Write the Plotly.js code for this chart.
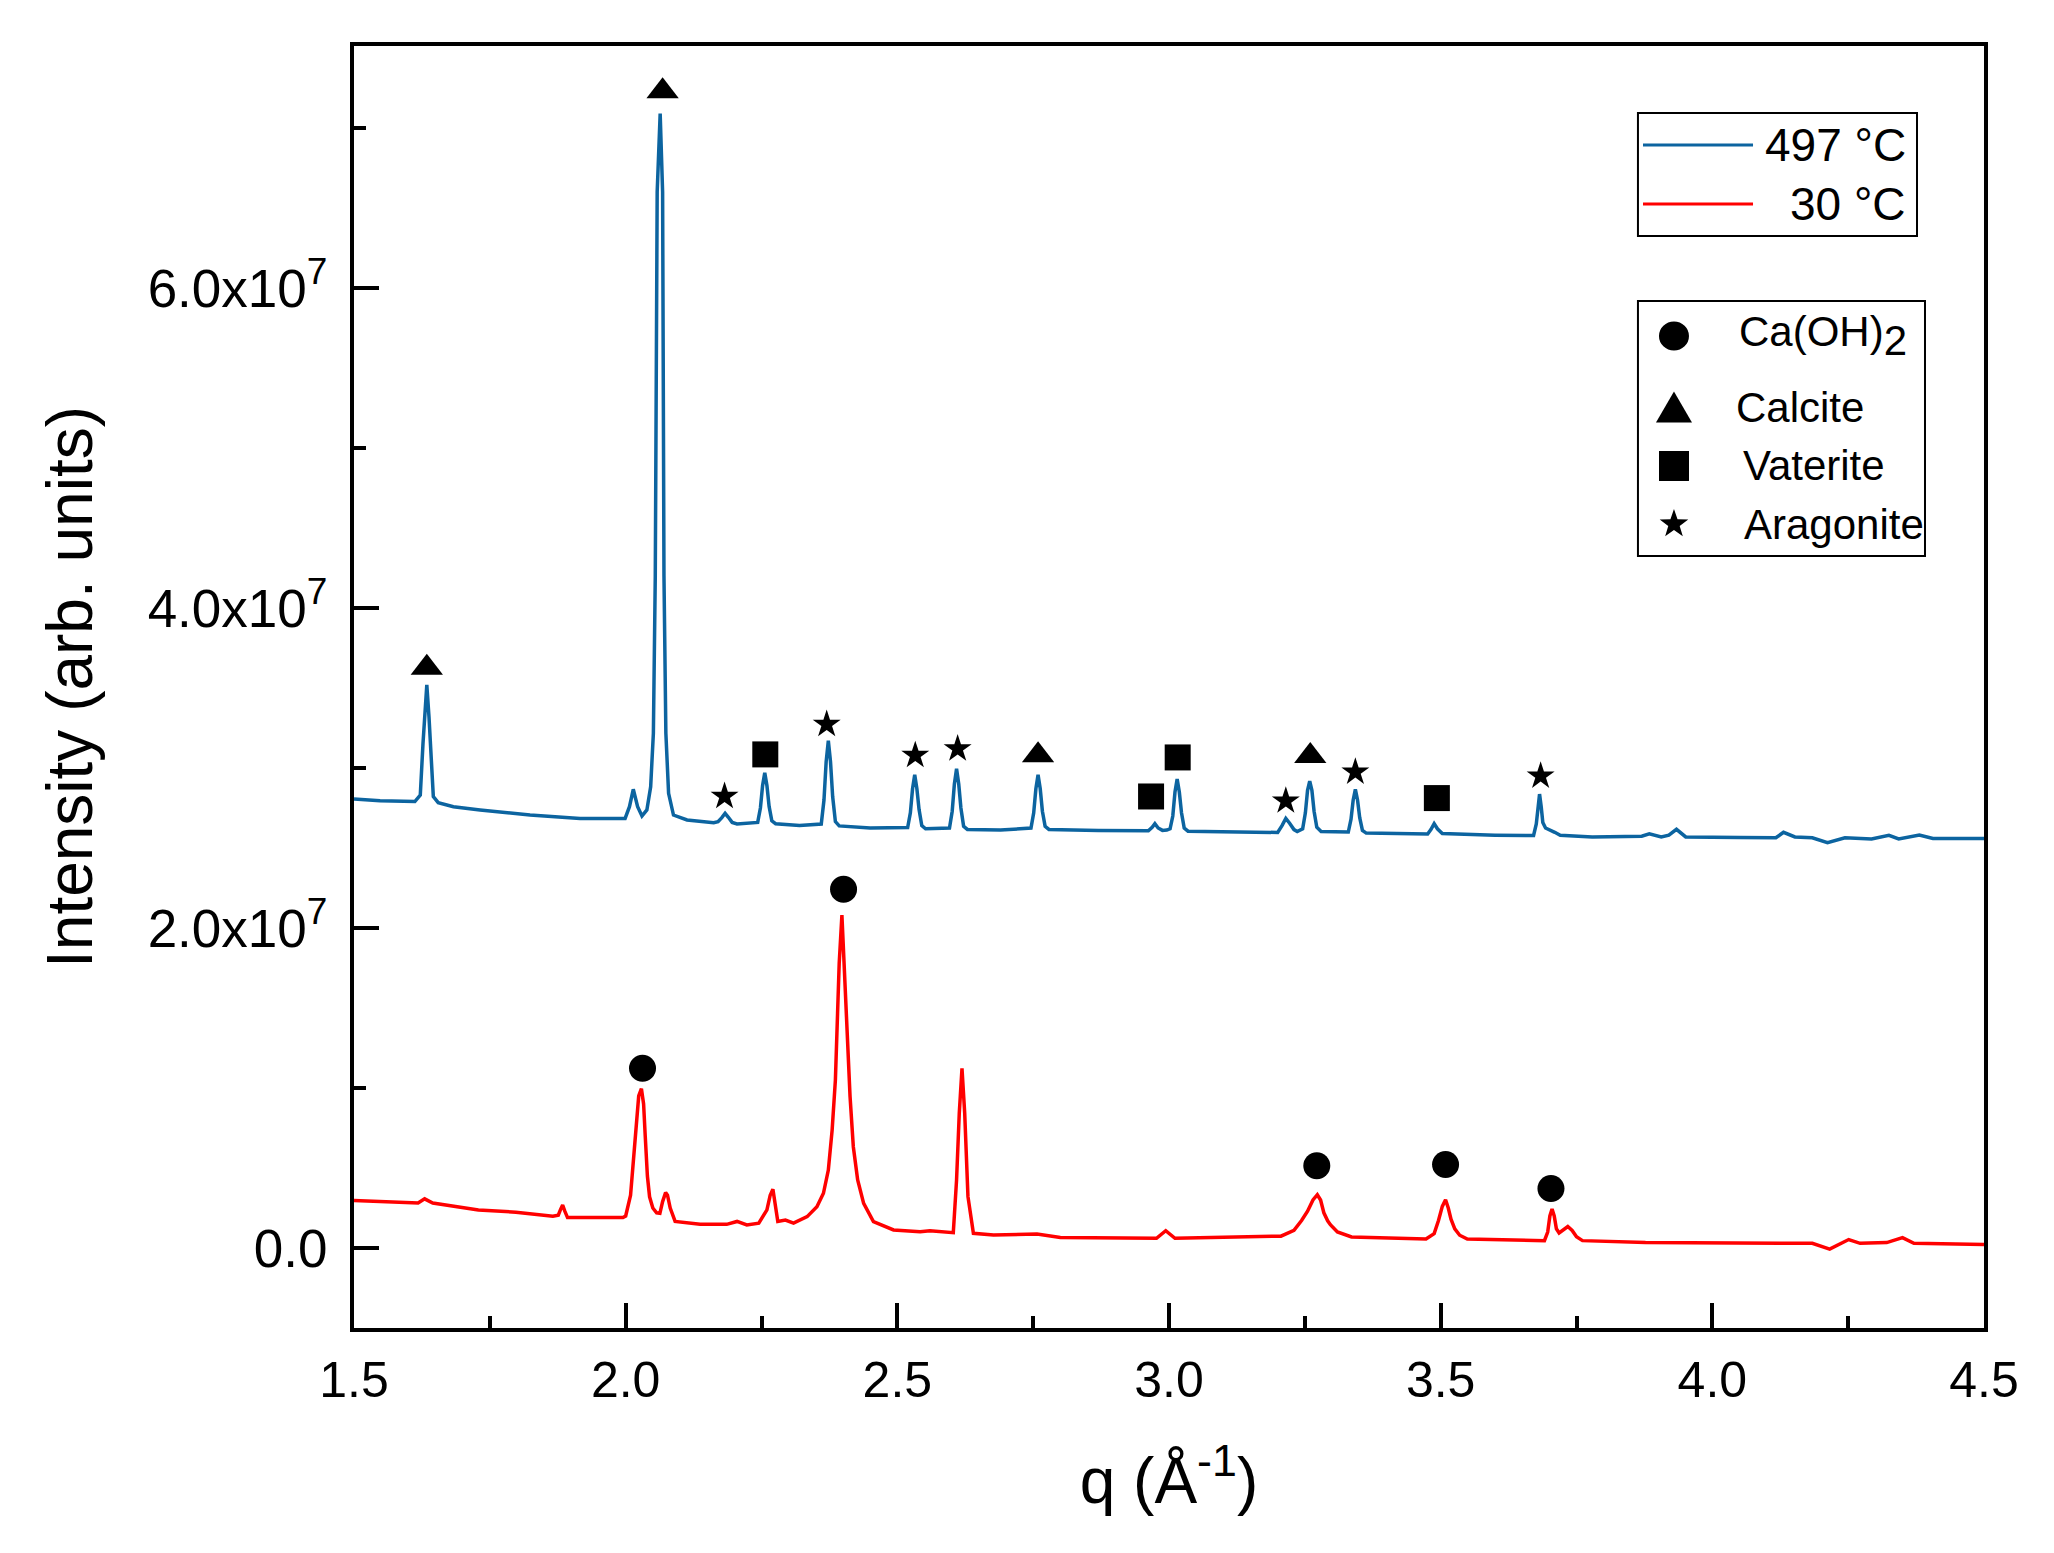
<!DOCTYPE html>
<html>
<head>
<meta charset="utf-8">
<script src="https://cdn.plot.ly/plotly-3.0.1.min.js"></script>
<style>
  html, body { margin: 0; padding: 0; background: #fff; }
  #chart { width: 2054px; height: 1553px; }
</style>
</head>
<body>
<div id="chart"></div>
<script>
// ===== Data (intensity in units of 1e7) =====
const UNIT = 1e7;

// 497 °C pattern
const qHot = [1.500, 1.548, 1.612, 1.622, 1.627, 1.631, 1.634, 1.638, 1.642, 1.646, 1.655, 1.683, 1.732, 1.824,
  1.916, 1.999, 2.007, 2.014, 2.022, 2.030, 2.039, 2.046, 2.051, 2.0545, 2.058, 2.0635, 2.068, 2.0705, 2.074, 2.079,
  2.088, 2.113, 2.162, 2.170, 2.177, 2.183, 2.189, 2.196, 2.205, 2.243, 2.248, 2.252, 2.256, 2.260, 2.264, 2.269,
  2.276, 2.320, 2.360, 2.365, 2.369, 2.373, 2.377, 2.381, 2.386, 2.393, 2.450, 2.519, 2.524, 2.528, 2.532, 2.536,
  2.540, 2.545, 2.552, 2.596, 2.601, 2.605, 2.609, 2.613, 2.617, 2.622, 2.629, 2.690, 2.746, 2.751, 2.755, 2.759,
  2.763, 2.767, 2.772, 2.779, 2.870, 2.962, 2.969, 2.974, 2.980, 2.988, 2.996, 3.002, 3.007, 3.011, 3.015, 3.019,
  3.023, 3.028, 3.035, 3.120, 3.200, 3.208, 3.215, 3.222, 3.230, 3.236, 3.246, 3.251, 3.255, 3.259, 3.263, 3.267,
  3.272, 3.280, 3.330, 3.335, 3.339, 3.343, 3.347, 3.351, 3.356, 3.363, 3.420, 3.476, 3.482, 3.488, 3.494, 3.503,
  3.600, 3.671, 3.676, 3.679, 3.682, 3.685, 3.688, 3.693, 3.700, 3.710, 3.720, 3.779, 3.870, 3.884, 3.906, 3.920,
  3.934, 3.951, 4.050, 4.117, 4.131, 4.152, 4.184, 4.212, 4.244, 4.293, 4.325, 4.343, 4.381, 4.406, 4.500];
const iHot = [2.807, 2.796, 2.790, 2.831, 3.154, 3.425, 3.519, 3.321, 3.050, 2.821, 2.783, 2.758, 2.738, 2.706,
  2.685, 2.685, 2.758, 2.867, 2.758, 2.700, 2.738, 2.883, 3.217, 4.200, 6.600, 7.090, 6.600, 4.200, 3.217, 2.842,
  2.706, 2.675, 2.658, 2.665, 2.690, 2.717, 2.692, 2.660, 2.650, 2.660, 2.750, 2.890, 2.970, 2.890, 2.760, 2.670,
  2.652, 2.640, 2.650, 2.800, 3.040, 3.170, 3.040, 2.820, 2.665, 2.638, 2.625, 2.628, 2.720, 2.870, 2.958, 2.870,
  2.740, 2.640, 2.620, 2.625, 2.730, 2.900, 2.996, 2.900, 2.750, 2.636, 2.616, 2.612, 2.625, 2.720, 2.870, 2.957,
  2.870, 2.730, 2.635, 2.616, 2.609, 2.608, 2.630, 2.652, 2.625, 2.610, 2.612, 2.620, 2.700, 2.850, 2.931, 2.850,
  2.720, 2.625, 2.605, 2.600, 2.597, 2.640, 2.685, 2.655, 2.615, 2.603, 2.620, 2.720, 2.860, 2.918, 2.860, 2.730,
  2.630, 2.603, 2.600, 2.680, 2.800, 2.867, 2.800, 2.690, 2.610, 2.593, 2.590, 2.587, 2.615, 2.652, 2.620, 2.590,
  2.580, 2.578, 2.650, 2.760, 2.837, 2.760, 2.660, 2.625, 2.615, 2.598, 2.580, 2.569, 2.574, 2.588, 2.569, 2.580,
  2.617, 2.569, 2.566, 2.564, 2.598, 2.569, 2.564, 2.533, 2.564, 2.557, 2.579, 2.557, 2.581, 2.559, 2.559];

// 30 °C pattern
const qCold = [1.500, 1.576, 1.618, 1.630, 1.645, 1.729, 1.798, 1.866, 1.876, 1.880, 1.884, 1.888, 1.893, 1.995,
  2.000, 2.009, 2.015, 2.020, 2.024, 2.029, 2.033, 2.036, 2.040, 2.044, 2.050, 2.057, 2.063, 2.068, 2.0735, 2.077,
  2.082, 2.091, 2.137, 2.186, 2.205, 2.223, 2.245, 2.260, 2.266, 2.271, 2.276, 2.280, 2.294, 2.309, 2.334, 2.352,
  2.364, 2.373, 2.380, 2.386, 2.390, 2.393, 2.398, 2.402, 2.407, 2.413, 2.419, 2.427, 2.438, 2.456, 2.493, 2.542,
  2.560, 2.603, 2.609, 2.614, 2.619, 2.624, 2.630, 2.640, 2.677, 2.757, 2.800, 2.977, 2.994, 3.011, 3.206, 3.230,
  3.244, 3.255, 3.265, 3.273, 3.279, 3.285, 3.292, 3.297, 3.310, 3.336, 3.473, 3.488, 3.496, 3.503, 3.509, 3.514,
  3.519, 3.526, 3.535, 3.549, 3.691, 3.697, 3.701, 3.705, 3.709, 3.713, 3.718, 3.726, 3.734, 3.742, 3.750, 3.761,
  3.877, 4.184, 4.216, 4.251, 4.272, 4.321, 4.350, 4.371, 4.500];
const iCold = [0.297, 0.289, 0.281, 0.307, 0.281, 0.237, 0.224, 0.198, 0.205, 0.240, 0.268, 0.230, 0.190, 0.190,
  0.200, 0.330, 0.560, 0.800, 0.950, 0.996, 0.900, 0.700, 0.450, 0.320, 0.250, 0.220, 0.217, 0.290, 0.346, 0.330,
  0.250, 0.166, 0.148, 0.148, 0.166, 0.144, 0.155, 0.238, 0.330, 0.367, 0.250, 0.166, 0.175, 0.155, 0.196, 0.258,
  0.342, 0.487, 0.737, 1.050, 1.467, 1.779, 2.081, 1.779, 1.362, 0.946, 0.633, 0.425, 0.279, 0.165, 0.113, 0.102,
  0.108, 0.096, 0.425, 0.842, 1.123, 0.842, 0.321, 0.092, 0.081, 0.087, 0.065, 0.061, 0.108, 0.061, 0.074, 0.110,
  0.172, 0.230, 0.300, 0.333, 0.300, 0.220, 0.170, 0.146, 0.100, 0.069, 0.056, 0.090, 0.172, 0.260, 0.302, 0.250,
  0.180, 0.120, 0.080, 0.056, 0.046, 0.100, 0.200, 0.244, 0.200, 0.120, 0.094, 0.115, 0.134, 0.110, 0.070, 0.046,
  0.034, 0.029, -0.007, 0.053, 0.029, 0.034, 0.065, 0.029, 0.022];

// phase labels above peaks
const qCaOH2 = [2.031, 2.401, 3.272, 3.509, 3.703];
const iCaOH2 = [1.123, 2.242, 0.514, 0.522, 0.372];
const qCalcite = [1.634, 2.068, 2.759, 3.260];
const iCalcite = [3.627, 7.230, 3.080, 3.075];
const qVaterite = [2.257, 2.967, 3.016, 3.493];
const iVaterite = [3.085, 2.822, 3.066, 2.812];
const qAragonite = [2.182, 2.370, 2.533, 2.611, 3.215, 3.343, 3.684];
const iAragonite = [2.823, 3.273, 3.079, 3.120, 2.794, 2.975, 2.950];

const xTicks = [1.5, 2.0, 2.5, 3.0, 3.5, 4.0, 4.5];
const yTicks = [0, 2, 4, 6];
const yTickText = ['0.0', '2.0x10<sup>7</sup>', '4.0x10<sup>7</sup>', '6.0x10<sup>7</sup>'];

const seriesNames = ['497 °C', '30 °C'];
const phaseNames = ['Ca(OH)<sub><span style="font-size:42px">2</span></sub>', 'Calcite', 'Vaterite', 'Aragonite'];

// ===== Styles =====
const BLUE = '#0c64a0';
const RED = '#ff0000';
const FONT = 'Liberation Sans, Arial, sans-serif';
const scale = arr => arr.map(v => v * UNIT);

function markerTrace(q, i, symbol, size) {
  return {
    x: q, y: scale(i), type: 'scatter', mode: 'markers', showlegend: false, hoverinfo: 'skip',
    marker: { symbol, size, color: '#000', line: { width: 0 } },
  };
}

const traces = [
  { x: qHot, y: scale(iHot), type: 'scatter', mode: 'lines', name: seriesNames[0],
    line: { color: BLUE, width: 3.5 }, showlegend: false },
  { x: qCold, y: scale(iCold), type: 'scatter', mode: 'lines', name: seriesNames[1],
    line: { color: RED, width: 3.5 }, showlegend: false },
  markerTrace(qCaOH2, iCaOH2, 'circle', 27),
  markerTrace(qCalcite, iCalcite, 'triangle-up', 28),
  markerTrace(qVaterite, iVaterite, 'square', 26),
  markerTrace(qAragonite, iAragonite, 'star', 21),
];

// ===== Legend boxes (drawn by hand to match the original look) =====
const pixelShape = { xsizemode: 'pixel', ysizemode: 'pixel', xref: 'paper', yref: 'paper' };
const legendMarks = [
  { type: 'circle', x0: -15, x1: 15, y0: -14.5, y1: 14.5, yanchor: 0.7738 },
  { type: 'path', path: 'M -18,-15.5 L 18,-15.5 L 0,15.5 Z', yanchor: 0.7184 },
  { type: 'rect', x0: -15, x1: 15, y0: -15, y1: 15, yanchor: 0.6724 },
  { type: 'path', path: 'M 0,15 L -3.53,4.85 L -14.27,4.64 L -5.71,-1.85 L -8.82,-12.14 L 0,-6 L 8.82,-12.14 L 5.71,-1.85 L 14.27,4.64 L 3.53,4.85 Z', yanchor: 0.6271 },
].map(s => ({ ...pixelShape, xanchor: 0.8098, fillcolor: '#000', line: { width: 0 }, ...s }));

const shapes = [
  { type: 'rect', xref: 'paper', yref: 'paper', x0: 0.7877, x1: 0.9589, y0: 0.8518, y1: 0.9477,
    line: { color: '#000', width: 2 }, fillcolor: '#fff' },
  { type: 'line', xref: 'paper', yref: 'paper', x0: 0.7908, x1: 0.8583, y0: 0.9228, y1: 0.9228,
    line: { color: BLUE, width: 3 } },
  { type: 'line', xref: 'paper', yref: 'paper', x0: 0.7908, x1: 0.8583, y0: 0.8768, y1: 0.8768,
    line: { color: RED, width: 3 } },
  { type: 'rect', xref: 'paper', yref: 'paper', x0: 0.7877, x1: 0.9638, y0: 0.6022, y1: 0.8011,
    line: { color: '#000', width: 2 }, fillcolor: '#fff' },
  ...legendMarks,
];

const annText = (text, x, y, xanchor, size) => ({
  text, x, y, xref: 'paper', yref: 'paper', xanchor, yanchor: 'middle', showarrow: false,
  font: { family: FONT, size, color: '#000' },
});

const annotations = [
  annText(seriesNames[0], 0.9534, 0.9228, 'right', 46),
  annText(seriesNames[1], 0.9534, 0.8768, 'right', 46),
  annText(phaseNames[0], 0.8485, 0.7738, 'left', 42),
  annText(phaseNames[1], 0.8466, 0.7184, 'left', 42),
  annText(phaseNames[2], 0.8509, 0.6724, 'left', 42),
  annText(phaseNames[3], 0.8515, 0.6271, 'left', 42),
];

const axisCommon = {
  showline: true, linecolor: '#000', linewidth: 4, mirror: true,
  showgrid: false, zeroline: false,
  ticks: 'inside', ticklen: 25, tickwidth: 3.5, tickcolor: '#000',
  tickfont: { family: FONT, size: 50, color: '#000' },
};

const layout = {
  width: 2054, height: 1553,
  margin: { l: 354, r: 70, t: 46, b: 225 },
  paper_bgcolor: '#fff', plot_bgcolor: '#fff',
  font: { family: FONT, color: '#000' },
  showlegend: false,
  xaxis: {
    ...axisCommon,
    range: [1.5, 4.5],
    tickmode: 'array', tickvals: xTicks, ticktext: xTicks.map(v => v.toFixed(1)),
    ticklabelstandoff: 5,
    minor: { dtick: 0.25, tick0: 1.5, ticks: 'inside', ticklen: 12, tickwidth: 3.5, tickcolor: '#000' },
    title: { text: 'q (Å<sup>-1</sup>)', font: { family: FONT, size: 64, color: '#000' }, standoff: 52 },
  },
  yaxis: {
    ...axisCommon,
    tickfont: { family: FONT, size: 53, color: '#000' },
    range: [-0.5 * UNIT, 7.5125 * UNIT],
    tickmode: 'array', tickvals: scale(yTicks), ticktext: yTickText,
    ticklabelstandoff: 12,
    minor: { tickmode: 'array', tickvals: scale([1, 3, 5, 7]), ticks: 'inside', ticklen: 12, tickwidth: 3.5, tickcolor: '#000' },
    title: { text: 'Intensity (arb. units)', font: { family: FONT, size: 64, color: '#000' }, standoff: 35 },
  },
  shapes,
  annotations,
};

Plotly.newPlot('chart', traces, layout, { displayModeBar: false, responsive: false });
</script>
</body>
</html>
